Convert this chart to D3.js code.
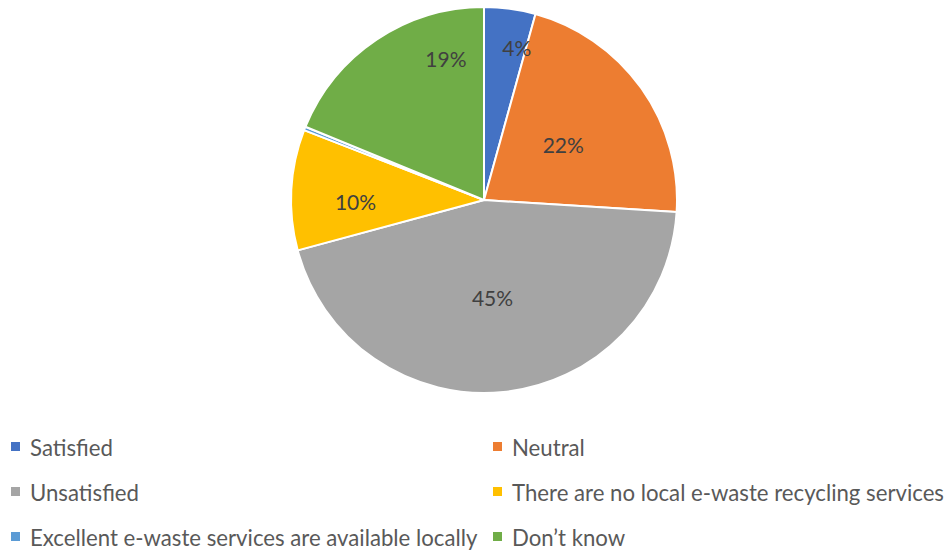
<!DOCTYPE html>
<html>
<head>
<meta charset="utf-8">
<script src="https://cdn.jsdelivr.net/npm/d3@7"></script>
<style>
  html, body { margin: 0; padding: 0; background: #fff; }
  svg { display: block; }
</style>
</head>
<body>
<svg id="chart" width="951" height="554"></svg>
<script>
// Survey responses: satisfaction with local e-waste services (share of respondents, %)
const categories = [
  "Satisfied",
  "Neutral",
  "Unsatisfied",
  "There are no local e-waste recycling services",
  "Excellent e-waste services are available locally",
  "Don\u2019t know"
];
const shares = [4.3, 21.7, 44.8, 10.1, 0.3, 18.8];
const labels = ["4%", "22%", "45%", "10%", "", "19%"];
const colors = ["#4472C4", "#ED7D31", "#A5A5A5", "#FFC000", "#5B9BD5", "#70AD47"];

// Data-label placement inside the pie: [angle in degrees clockwise from 12 o'clock, radius fraction]
const labelPlacement = [[12.2, 0.806], [55.2, 0.5], [175, 0.505], [269.2, 0.666], null, [344.9, 0.757]];

const width = 951, height = 554;
const cx = 484, cy = 200, radius = 193;
const svg = d3.select("#chart");

const data = categories.map((c, i) => ({ name: c, value: shares[i], label: labels[i], color: colors[i], place: labelPlacement[i] }));

const pie = d3.pie().value(d => d.value).sort(null);
const arc = d3.arc().innerRadius(0).outerRadius(radius);

const g = svg.append("g").attr("transform", `translate(${cx},${cy})`);

const arcs = pie(data);

g.selectAll("path.slice")
  .data(arcs)
  .join("path")
  .attr("class", "slice")
  .attr("d", arc)
  .attr("fill", d => d.data.color)
  .attr("stroke", "#fff")
  .attr("stroke-width", 2)
  .attr("stroke-linejoin", "round");

g.selectAll("text.dlabel")
  .data(arcs.filter(d => d.data.label))
  .join("text")
  .attr("class", "dlabel")
  .attr("x", d => Math.sin(d.data.place[0] * Math.PI / 180) * d.data.place[1] * radius)
  .attr("y", d => -Math.cos(d.data.place[0] * Math.PI / 180) * d.data.place[1] * radius)
  .attr("text-anchor", "middle")
  .attr("dominant-baseline", "central")
  .attr("font-family", "Lato, 'Open Sans', sans-serif")
  .attr("font-size", 21)
  .attr("fill", "#404040")
  .text(d => d.data.label);

// Legend: two columns, three rows
const legendX = [11, 493];
const legendY = [447, 492, 537];
const legend = svg.append("g");
const items = legend.selectAll("g.item")
  .data(data)
  .join("g")
  .attr("class", "item")
  .attr("transform", (d, i) => `translate(${legendX[i % 2]},${legendY[Math.floor(i / 2)]})`);

items.append("rect")
  .attr("x", 0).attr("y", -5)
  .attr("width", 9).attr("height", 9)
  .attr("fill", d => d.color);

items.append("text")
  .attr("x", 19)
  .attr("y", 0)
  .attr("dominant-baseline", "central")
  .attr("font-family", "Lato, 'Open Sans', sans-serif")
  .attr("font-size", 22.2)
  .attr("fill", "#595959")
  .text(d => d.name);
</script>
</body>
</html>
